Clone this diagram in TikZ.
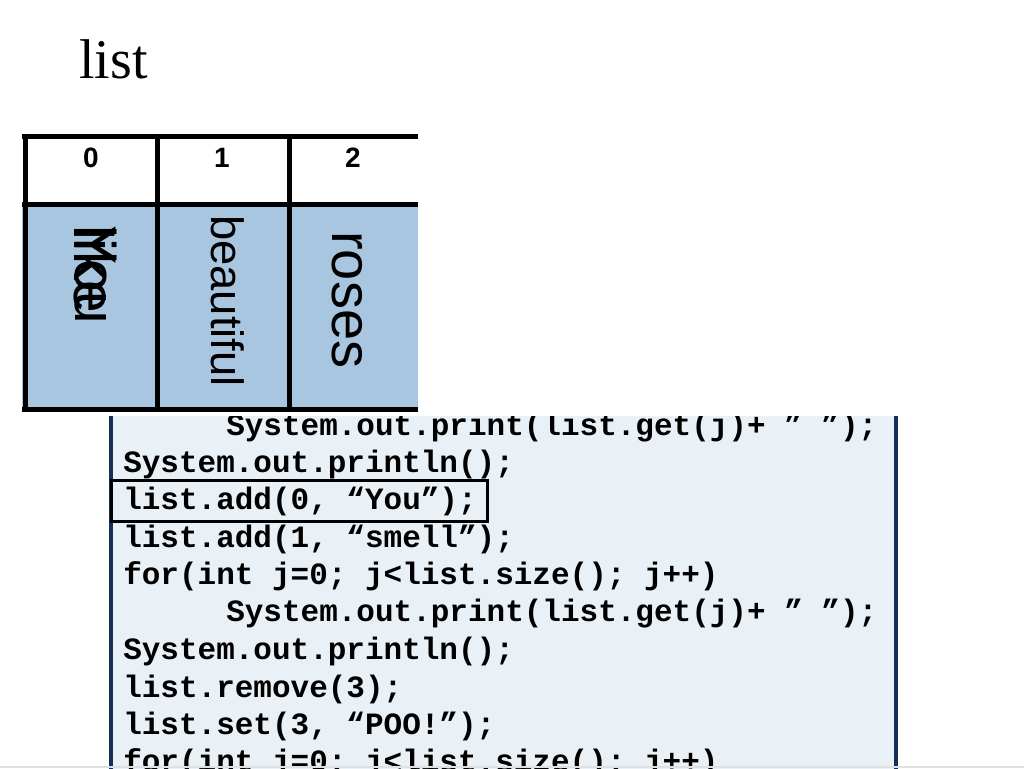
\documentclass[tikz,border=0pt]{standalone}
\usepackage{fontspec}
\setmainfont{Liberation Serif}
\setsansfont{Liberation Sans}
\newfontfamily\codefont{Liberation Mono}
\usepackage{tikz}
\definecolor{cellblue}{RGB}{169,198,224}
\definecolor{codebg}{RGB}{234,241,246}
\definecolor{codeedge}{RGB}{18,48,88}
\tikzstyle{idx}=[font=\sffamily\bfseries\fontsize{21}{24}\selectfont,inner sep=0pt]
\tikzstyle{word}=[font=\sffamily\fontsize{42}{46}\selectfont,rotate=-90,anchor=west,inner sep=0pt]
\tikzstyle{codeline}=[font=\codefont\bfseries\fontsize{23.25}{28}\selectfont,anchor=base west,inner sep=0pt]
\tikzstyle{grid}=[line width=3.75pt,black]

\begin{document}
\begin{tikzpicture}[x=0.75pt,y=-0.75pt]
\useasboundingbox (0,0) rectangle (1024,768);
\node[anchor=base west,inner sep=0pt,font=\fontsize{42}{48}\selectfont] (title) at (79,78) {list};
% code box, top part hidden
\begin{scope}
\clip (0,416) rectangle (1024,768);
\draw[fill=codebg,draw=codeedge,line width=2.4pt] (111,380) rectangle (896,800);
\node[codeline] (c0) at (226,435) {System.out.print(list.get(j)+ ” ”);};
\end{scope}
\node[codeline] (c1) at (123,472) {System.out.println();};
\node[codeline] (c2) at (123,509) {list.add(0, “You”);};
\node[codeline] (c3) at (123,547) {list.add(1, “smell”);};
\node[codeline] (c4) at (123,584) {for(int j=0; j<list.size(); j++)};
\node[codeline] (c5) at (226,621) {System.out.print(list.get(j)+ ” ”);};
\node[codeline] (c6) at (123,659) {System.out.println();};
\node[codeline] (c7) at (123,697) {list.remove(3);};
\node[codeline] (c8) at (123,734) {list.set(3, “POO!”);};
\node[codeline] (c9) at (123,771) {for(int j=0; j<list.size(); j++)};
\draw[line width=2.25pt] (111,480) rectangle (487,521);
\draw[black!12,line width=1.5pt] (0,767) -- (1024,767);
% the list
\fill[white] (22,134) rectangle (418,205);
\fill[cellblue] (22,205) rectangle (418,410);
\draw[grid] (22,136) -- (418,136);
\draw[grid] (22,204) -- (418,204);
\draw[grid] (22,409) -- (418,409);
\draw[grid] (25,134) -- (25,411);
\draw[grid] (157,134) -- (157,411);
\draw[grid] (289,134) -- (289,411);
\node[idx] (i0) at (91,158) {0};
\node[idx] (i1) at (222,158) {1};
\node[idx] (i2) at (353,158) {2};
\node[word,font=\sffamily\fontsize{44}{48}\selectfont] (w0) at (95,225) {I};
\node[word,font=\sffamily\fontsize{44}{48}\selectfont] (w1) at (95,225) {like};
\node[word,font=\sffamily\fontsize{44}{48}\selectfont] (w2) at (95,225) {You};
\node[word,font=\sffamily\fontsize{34}{38}\selectfont] (w3) at (228,215) {beautiful};
\node[word] (w4) at (347,231) {roses};
\end{tikzpicture}
\end{document}
